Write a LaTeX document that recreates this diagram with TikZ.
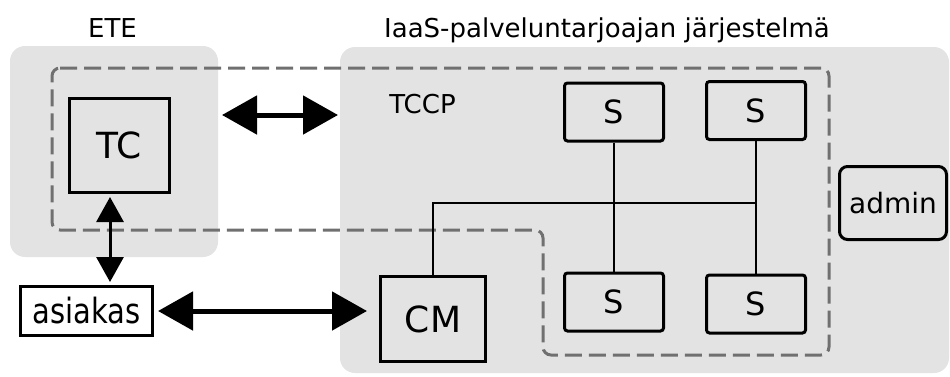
\documentclass[tikz,border=0pt]{standalone}
\usepackage{fontspec}
\setmainfont{DejaVu Sans}
\usepackage{graphicx}
\usetikzlibrary{arrows.meta}
\definecolor{zonegrey}{RGB}{227,227,227}
\definecolor{dashgrey}{RGB}{112,112,112}

\begin{document}
\begin{tikzpicture}[x=1pt,y=-1pt,
  zone/.style={fill=zonegrey, draw=none, rounded corners=15pt, inner sep=0pt},
  unitbox/.style={draw=black, line width=3pt, fill=zonegrey, inner sep=0pt},
  serverbox/.style={unitbox, rounded corners=3pt, minimum width=99pt, minimum height=58pt,
    font=\fontsize{32}{36}\selectfont},
  caption/.style={inner sep=0pt, anchor=base, font=\fontsize{26}{30}\selectfont},
  trustline/.style={draw=dashgrey, line width=3pt, dash pattern=on 17pt off 7pt, rounded corners=8pt},
  wire/.style={draw=black, line width=1.6pt},
  bigarrow/.style={draw=black, line width=5pt, {Triangle[length=35pt,width=38pt]}-{Triangle[length=35pt,width=38pt]}},
  smallarrow/.style={draw=black, line width=3pt, {Triangle[length=25pt,width=27pt]}-{Triangle[length=25pt,width=27pt]}}
]
\useasboundingbox (0,0) rectangle (950,376);

% grey zones
\node[zone, minimum width=208pt, minimum height=211pt] (ete) at (114,151.5) {};
\node[zone, minimum width=609pt, minimum height=326pt] (iaas) at (644.5,210) {};

% zone titles
\node[caption] (etelabel) at (112.5,37) {ETE};
\node[caption] (iaaslabel) at (607,37) {IaaS-palveluntarjoajan järjestelmä};
\node[caption] (tccplabel) at (422.5,113) {TCCP};

% trusted cloud computing platform boundary
\draw[trustline] (52,68) -- (829,68) -- (829,355) -- (543,355) -- (543,230) -- (52,230) -- cycle;

% components
\node[unitbox, minimum width=100pt, minimum height=94pt, font=\fontsize{36}{40}\selectfont] (tc) at (119.5,145.5) {TC};
\node[unitbox, fill=white, minimum width=132pt, minimum height=49pt, font=\fontsize{29}{32}\selectfont] (asiakas) at (86.5,311) {\scalebox{1}[1.2]{asiakas}};
\node[unitbox, minimum width=105pt, minimum height=85pt, font=\fontsize{36}{40}\selectfont] (cm) at (433,319) {CM};
\node[serverbox] (s1) at (614,112) {S};
\node[serverbox] (s2) at (756,110.5) {S};
\node[serverbox] (s3) at (614,302) {S};
\node[serverbox] (s4) at (756,304) {S};
\node[unitbox, rounded corners=8pt, minimum width=107pt, minimum height=73pt, font=\fontsize{28}{32}\selectfont] (admin) at (893,203) {admin};

% internal network
\coordinate (bus) at (756,203);
\draw[wire] (s1.south) -- (s3.north);
\draw[wire] (s2.south) -- (s4.north);
\draw[wire] (cm.north) |- (bus);

% communication links
\coordinate (linkA) at (222,115);
\coordinate (linkB) at (338,115);
\draw[bigarrow] (linkA) -- (linkB);
\draw[bigarrow, shorten <=4pt, shorten >=12pt] (asiakas.east) -- (asiakas.east -| cm.west);
\coordinate (vx) at (110,0);
\draw[smallarrow, shorten <=3pt, shorten >=3pt] (tc.south -| vx) -- (asiakas.north -| vx);
\end{tikzpicture}
\end{document}
